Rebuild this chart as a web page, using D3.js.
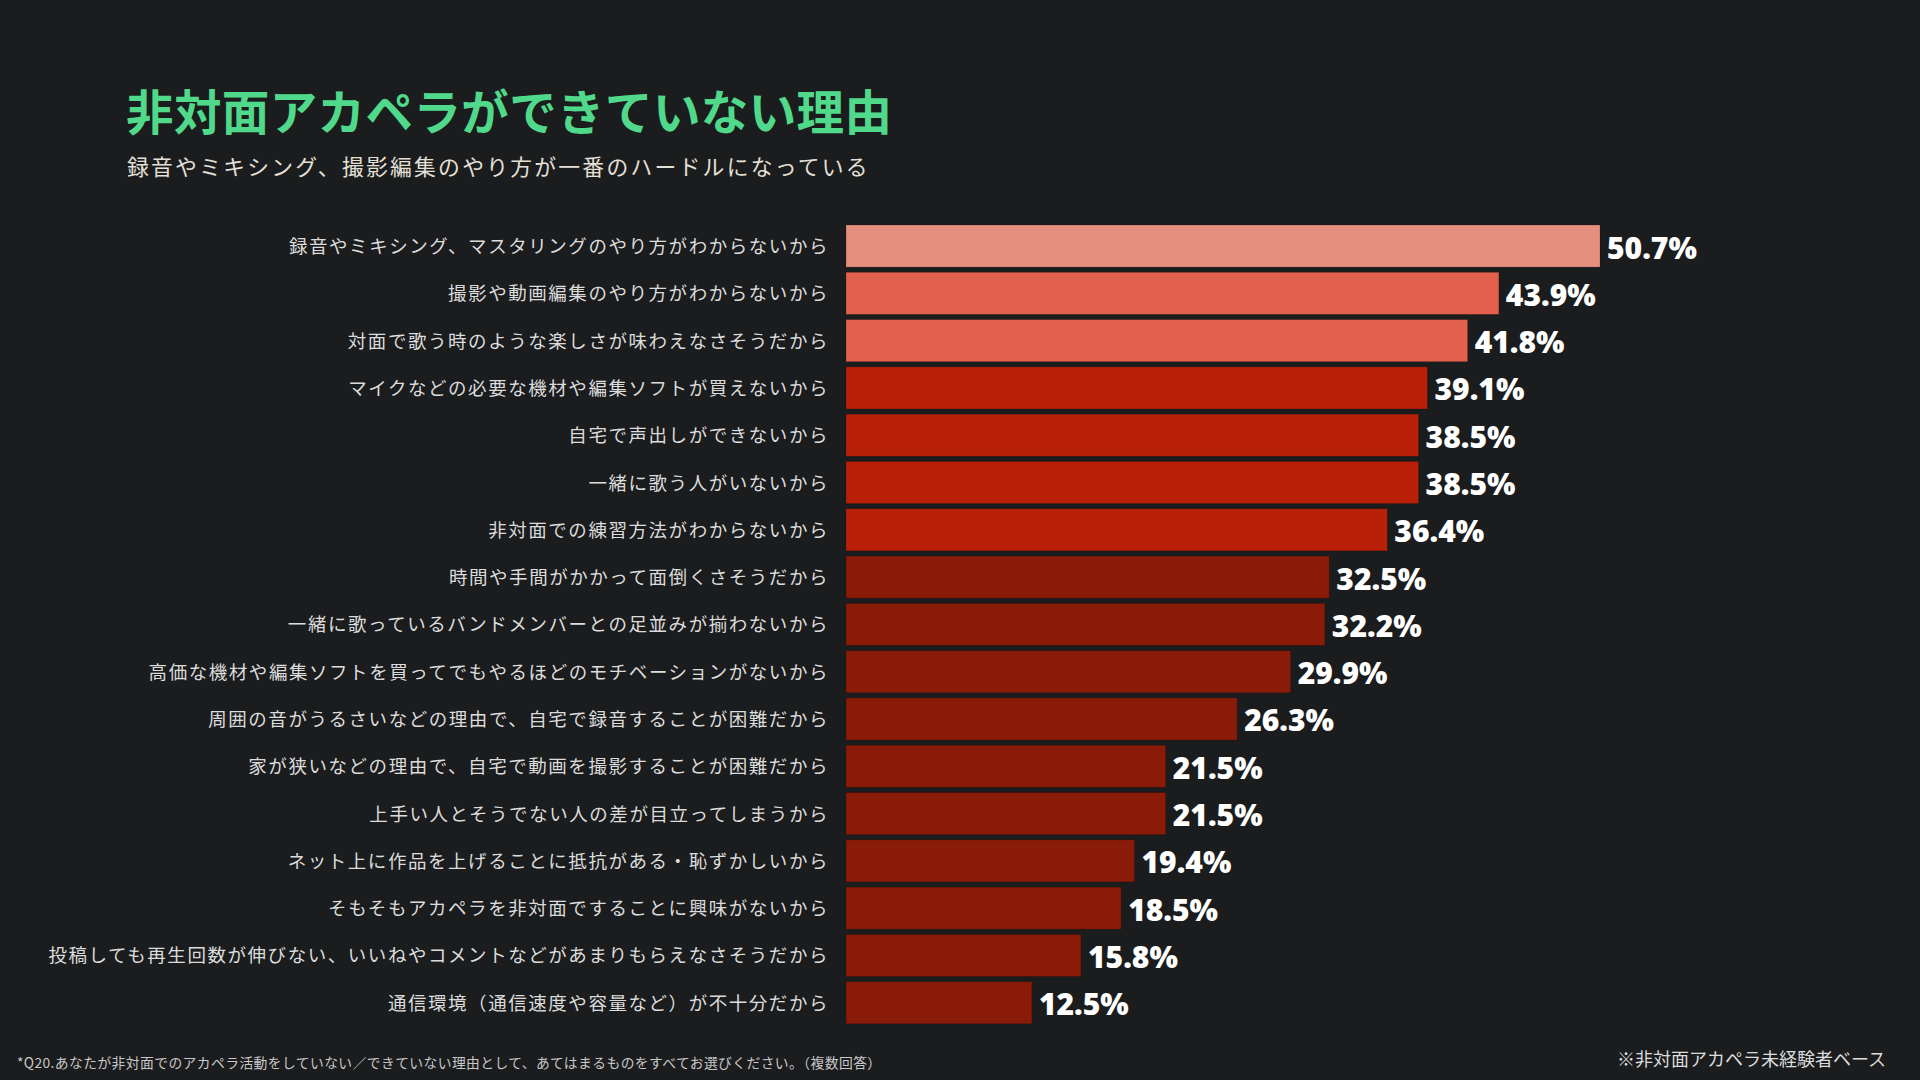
<!DOCTYPE html>
<html>
<head>
<meta charset="utf-8">
<script src="https://cdn.jsdelivr.net/npm/d3@7"></script>
<style>
  html, body { margin: 0; padding: 0; background: #1b1c1e; }
  svg { display: block; }
</style>
</head>
<body>
<div id="chart"></div>
<script>
// data
const categories = [
  '録音やミキシング、マスタリングのやり方がわからないから',
  '撮影や動画編集のやり方がわからないから',
  '対面で歌う時のような楽しさが味わえなさそうだから',
  'マイクなどの必要な機材や編集ソフトが買えないから',
  '自宅で声出しができないから',
  '一緒に歌う人がいないから',
  '非対面での練習方法がわからないから',
  '時間や手間がかかって面倒くさそうだから',
  '一緒に歌っているバンドメンバーとの足並みが揃わないから',
  '高価な機材や編集ソフトを買ってでもやるほどのモチベーションがないから',
  '周囲の音がうるさいなどの理由で、自宅で録音することが困難だから',
  '家が狭いなどの理由で、自宅で動画を撮影することが困難だから',
  '上手い人とそうでない人の差が目立ってしまうから',
  'ネット上に作品を上げることに抵抗がある・恥ずかしいから',
  'そもそもアカペラを非対面ですることに興味がないから',
  '投稿しても再生回数が伸びない、いいねやコメントなどがあまりもらえなさそうだから',
  '通信環境（通信速度や容量など）が不十分だから'
];
const values = [50.7, 43.9, 41.8, 39.1, 38.5, 38.5, 36.4, 32.5, 32.2, 29.9, 26.3, 21.5, 21.5, 19.4, 18.5, 15.8, 12.5];

const title = '非対面アカペラができていない理由';
const subtitle = '録音やミキシング、撮影編集のやり方が一番のハードルになっている';
const footnote = '*Q20.あなたが非対面でのアカペラ活動をしていない／できていない理由として、あてはまるものをすべてお選びください。（複数回答）';
const baseNote = '※非対面アカペラ未経験者ベース';

const width = 1920;
const height = 1080;
const jp = '"Noto Sans CJK JP", "Noto Sans", sans-serif';

const svg = d3.select('#chart')
  .append('svg')
  .attr('width', width)
  .attr('height', height);

svg.append('rect')
  .attr('width', width)
  .attr('height', height)
  .attr('fill', '#1b1c1e');

const rows = categories.map((c, i) => ({ label: c, value: values[i], rank: i }));

const x = d3.scaleLinear()
  .domain([0, 50.7])
  .range([846, 1600]);

const y = d3.scaleBand()
  .domain(categories)
  .range([222.4, 1026.4])
  .paddingInner(0.11)
  .paddingOuter(0.055);

// colour steps by rank, top bar lightest
const color = d3.scaleThreshold()
  .domain([1, 3, 7])
  .range(['#e58f7f', '#e3614c', '#b82108', '#8a1b08']);

svg.append('text')
  .attr('x', 126)
  .attr('y', 109)
  .attr('dominant-baseline', 'central')
  .attr('font-family', jp)
  .attr('font-weight', 700)
  .attr('font-size', 47.5)
  .attr('letter-spacing', 0.4)
  .attr('fill', '#50d98a')
  .text(title);

svg.append('text')
  .attr('x', 127)
  .attr('y', 165)
  .attr('dominant-baseline', 'central')
  .attr('font-family', jp)
  .attr('font-size', 21.8)
  .attr('letter-spacing', 2.25)
  .attr('fill', '#e4e0d8')
  .text(subtitle);

svg.selectAll('rect.bar')
  .data(rows)
  .enter()
  .append('rect')
  .attr('class', 'bar')
  .attr('x', x(0))
  .attr('y', d => y(d.label))
  .attr('width', d => x(d.value) - x(0))
  .attr('height', y.bandwidth())
  .attr('fill', d => color(d.rank))
  .attr('stroke', 'rgba(0,0,0,0.18)')
  .attr('stroke-width', 1);

svg.selectAll('text.cat')
  .data(rows)
  .enter()
  .append('text')
  .attr('class', 'cat')
  .attr('x', 829)
  .attr('y', d => y(d.label) + y.bandwidth() / 2 - 1)
  .attr('dominant-baseline', 'central')
  .attr('text-anchor', 'end')
  .attr('font-family', jp)
  .attr('font-size', 18.5)
  .attr('letter-spacing', 1.55)
  .attr('fill', '#dcdcdc')
  .text(d => d.label);

svg.selectAll('text.val')
  .data(rows)
  .enter()
  .append('text')
  .attr('class', 'val')
  .attr('x', d => x(d.value) + 7)
  .attr('y', d => y(d.label) + y.bandwidth() / 2 + 1)
  .attr('dominant-baseline', 'central')
  .attr('font-family', '"Open Sans", Roboto, sans-serif')
  .attr('font-weight', 800)
  .attr('font-size', 30)
  .attr('fill', '#ffffff')
  .text(d => d3.format('.1f')(d.value) + '%');

svg.append('text')
  .attr('x', 17)
  .attr('y', 1062)
  .attr('dominant-baseline', 'central')
  .attr('font-family', jp)
  .attr('font-size', 13.8)
  .attr('letter-spacing', 0.4)
  .attr('fill', '#c8c8c8')
  .text(footnote);

svg.append('text')
  .attr('x', 1886)
  .attr('y', 1058)
  .attr('dominant-baseline', 'central')
  .attr('text-anchor', 'end')
  .attr('font-family', jp)
  .attr('font-size', 18)
  .attr('fill', '#dcdcdc')
  .text(baseNote);
</script>
</body>
</html>
